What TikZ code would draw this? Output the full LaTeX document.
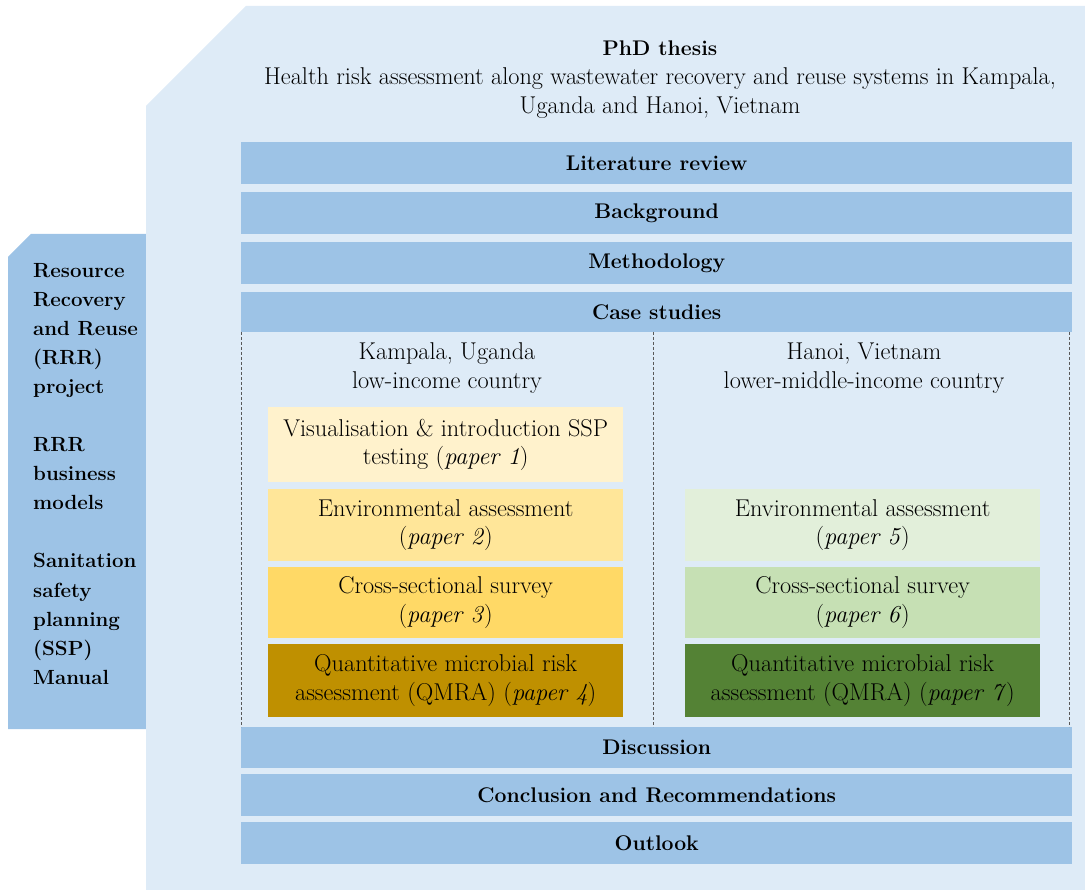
\documentclass[tikz,border=0pt]{standalone}
\definecolor{paleblue}{HTML}{DEEBF7}
\definecolor{barblue}{HTML}{9DC3E6}
\definecolor{yA}{HTML}{FFF2CC}
\definecolor{yB}{HTML}{FFE699}
\definecolor{yC}{HTML}{FFD966}
\definecolor{yD}{HTML}{BF9000}
\definecolor{gB}{HTML}{E2EFDA}
\definecolor{gC}{HTML}{C6E0B4}
\definecolor{gD}{HTML}{548235}
\definecolor{dashgrey}{HTML}{595959}
\newcommand{\txtsize}{\fontsize{24.3}{28.5}\selectfont}
\newcommand{\headsize}{\fontsize{21.2}{25}\selectfont\bfseries}
\tikzset{
  bar/.style={fill=barblue, draw=none, minimum width=831pt, minimum height=42pt,
    inner sep=0pt, anchor=north west, font=\headsize},
  paperbox/.style={draw=none, minimum width=355pt, inner sep=0pt, anchor=north west,
    align=center, font=\txtsize},
  plain/.style={inner sep=0pt, align=center, font=\txtsize},
  divider/.style={dashgrey, line width=1pt, dash pattern=on 3pt off 2pt}
}
\begin{document}
\begin{tikzpicture}[x=1pt,y=-1pt]
\useasboundingbox (0,0) rectangle (1085,890);
% side panel with the project documents
\fill[barblue] (8,257) -- (31,234) -- (146,234) -- (146,729) -- (8,729) -- cycle;
% main thesis panel with cut corner
\fill[paleblue] (146,106) -- (246,6) -- (1085,6) -- (1085,890) -- (146,890) -- cycle;

\node[inner sep=0pt, anchor=north west, align=left,
  font=\fontsize{20.5}{29.07}\selectfont\bfseries] (sources) at (33,263)
  {Resource\\Recovery\\and Reuse\\(RRR)\\project\\[29.07pt]RRR\\business\\models\\[29.07pt]Sanitation\\safety\\planning\\(SSP)\\Manual};

% title
\node[plain, font=\headsize] (title) at (660,48) {PhD thesis};
\node[plain] (subtitle) at (660,93) {Health risk assessment along wastewater recovery and reuse systems in Kampala,\\Uganda and Hanoi, Vietnam};

% chapter bars
\node[bar] (lit) at (241,142) {Literature review};
\node[bar] (bg) at (241,192) {Background};
\node[bar] (meth) at (241,242) {Methodology};
\node[bar, minimum height=40pt] (cases) at (241,292) {Case studies};
\node[bar, minimum height=41pt] (disc) at (241,727) {Discussion};
\node[bar] (concl) at (241,774) {Conclusion and Recommendations};
\node[bar] (out) at (241,822) {Outlook};

% case study columns
\coordinate (dl) at (241,332);
\coordinate (dm) at (653,332);
\coordinate (dr) at (1069,332);
\draw[divider] (dl) -- (dl |- disc.north);
\draw[divider] (dm) -- (dm |- disc.north);
\draw[divider] (dr) -- (dr |- disc.north);

\node[plain] (kampala) at (447,368) {Kampala, Uganda\\low-income country};
\node[plain] (hanoi) at (864,368) {Hanoi, Vietnam\\lower-middle-income country};

% Kampala papers
\node[paperbox, fill=yA, minimum height=75pt] (p1) at (268,407) {Visualisation \& introduction SSP\\testing (\textit{paper 1})};
\node[paperbox, fill=yB, minimum height=72pt] (p2) at (268,489) {Environmental assessment\\(\textit{paper 2})};
\node[paperbox, fill=yC, minimum height=71pt] (p3) at (268,567) {Cross-sectional survey\\(\textit{paper 3})};
\node[paperbox, fill=yD, minimum height=73pt] (p4) at (268,644) {Quantitative microbial risk\\assessment (QMRA) (\textit{paper 4})};

% Hanoi papers
\node[paperbox, fill=gB, minimum height=72pt] (p5) at (685,489) {Environmental assessment\\(\textit{paper 5})};
\node[paperbox, fill=gC, minimum height=71pt] (p6) at (685,567) {Cross-sectional survey\\(\textit{paper 6})};
\node[paperbox, fill=gD, minimum height=73pt] (p7) at (685,644) {Quantitative microbial risk\\assessment (QMRA) (\textit{paper 7})};
\end{tikzpicture}
\end{document}
